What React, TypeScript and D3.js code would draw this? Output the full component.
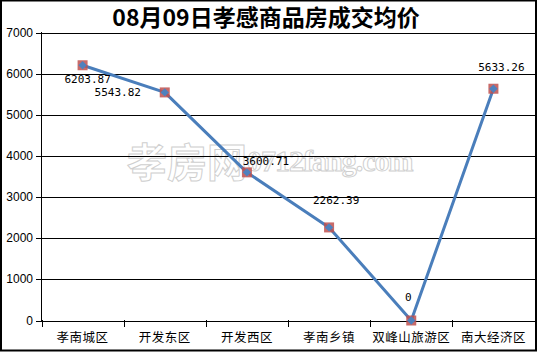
import * as d3 from "d3";
import { useEffect, useRef } from "react";

const categories = ["孝南城区", "开发东区", "开发西区", "孝南乡镇", "双峰山旅游区", "南大经济区"];
const prices = [6203.87, 5543.82, 3600.71, 2262.39, 0, 5633.26];
const yTicks = [0, 1000, 2000, 3000, 4000, 5000, 6000, 7000];
const labels = ["6203.87", "5543.82", "3600.71", "2262.39", "0", "5633.26"];
// label offsets (dx, dy) relative to each point, as placed in the original
const labelOffsets: [number, number][] = [
  [5, 18],
  [-47, 4],
  [19, -7],
  [7, -23],
  [-3, -20],
  [8, -18],
];

export default function App() {
  const ref = useRef<SVGSVGElement>(null);

  useEffect(() => {
    const width = 538;
    const height = 353;
    const svg = d3.select(ref.current);
    svg.selectAll("*").remove();
    svg.attr("width", width).attr("height", height);

    svg.append("rect")
      .attr("x", 0).attr("y", 0).attr("width", width).attr("height", height)
      .attr("fill", "white");

    const x = d3.scaleBand().domain(categories).range([41.5, 534.5]);
    const y = d3.scaleLinear().domain([0, 7000]).range([320.5, 32.5]);

    // watermark
    const wm = svg.append("g").attr("fill", "white").attr("stroke", "#cfcfcf").attr("stroke-width", 1);
    wm.append("text")
      .attr("x", 127).attr("y", 177)
      .attr("font-family", "Noto Sans CJK SC").attr("font-size", 40).attr("font-weight", "bold")
      .text("孝房网");
    wm.append("text")
      .attr("x", 247).attr("y", 171)
      .attr("font-family", "Liberation Serif").attr("font-size", 30).attr("font-weight", "bold")
      .attr("letter-spacing", -1)
      .text("0712fang.com");

    // gridlines
    svg.append("g")
      .selectAll("line")
      .data(yTicks)
      .join("line")
      .attr("x1", 36).attr("x2", 536)
      .attr("y1", (d) => Math.round(y(d)) + 0.5)
      .attr("y2", (d) => Math.round(y(d)) + 0.5)
      .attr("stroke", "black").attr("stroke-width", 1);

    // y axis
    svg.append("line")
      .attr("x1", 41.5).attr("x2", 41.5).attr("y1", 32).attr("y2", 321)
      .attr("stroke", "black");
    svg.append("g")
      .selectAll("text")
      .data(yTicks)
      .join("text")
      .attr("x", 33).attr("y", (d) => Math.round(y(d)) + 4)
      .attr("text-anchor", "end")
      .attr("font-family", "Liberation Sans").attr("font-size", 12)
      .text((d) => String(d));

    // x axis ticks
    const edges = categories.map((c) => x(c)!).concat([x.range()[1]]);
    svg.append("g")
      .selectAll("line")
      .data(edges)
      .join("line")
      .attr("x1", (d) => Math.round(d) + 0.5).attr("x2", (d) => Math.round(d) + 0.5)
      .attr("y1", 320).attr("y2", 327)
      .attr("stroke", "black");
    svg.append("g")
      .selectAll("text")
      .data(categories)
      .join("text")
      .attr("x", (d) => x(d)! + x.bandwidth() / 2)
      .attr("y", 342)
      .attr("text-anchor", "middle")
      .attr("font-family", "Noto Sans CJK SC").attr("font-size", 12.5)
      .attr("letter-spacing", 0.5)
      .text((d) => d);

    const px = (i: number) => x(categories[i])! + x.bandwidth() / 2;

    // line
    const line = d3.line<number>()
      .x((_, i) => px(i))
      .y((d) => y(d));
    svg.append("path")
      .datum(prices)
      .attr("d", line)
      .attr("fill", "none")
      .attr("stroke", "#4A7EBB")
      .attr("stroke-width", 3)
      .attr("stroke-linejoin", "round");

    // markers
    svg.append("g")
      .selectAll("rect")
      .data(prices)
      .join("rect")
      .attr("x", (_, i) => px(i) - 5).attr("y", (d) => y(d) - 5)
      .attr("width", 10).attr("height", 10)
      .attr("fill", "#C0504D").attr("fill-opacity", 0.85);
    svg.append("g")
      .selectAll("path")
      .data(prices)
      .join("path")
      .attr("d", d3.symbol().type(d3.symbolDiamond2).size(45))
      .attr("transform", (d, i) => `translate(${px(i)},${y(d)})`)
      .attr("fill", "#4F81BD");

    // data labels
    svg.append("g")
      .selectAll("text")
      .data(prices)
      .join("text")
      .attr("x", (_, i) => px(i) + labelOffsets[i][0])
      .attr("y", (d, i) => y(d) + labelOffsets[i][1])
      .attr("text-anchor", "middle")
      .attr("font-family", "DejaVu Sans Mono").attr("font-size", 11)
      .text((_, i) => labels[i]);

    // title
    svg.append("text")
      .attr("x", 266).attr("y", 26)
      .attr("text-anchor", "middle")
      .attr("font-family", "Noto Sans CJK SC").attr("font-size", 23).attr("font-weight", "bold")
      .text("08月09日孝感商品房成交均价");

    // outer border
    svg.append("rect")
      .attr("x", 1).attr("y", 0.5).attr("width", 535).attr("height", 350)
      .attr("fill", "none").attr("stroke", "black").attr("stroke-width", 2);
  }, []);

  return <svg ref={ref} style={{ position: "fixed", left: 0, top: 0, display: "block" }} />;
}
